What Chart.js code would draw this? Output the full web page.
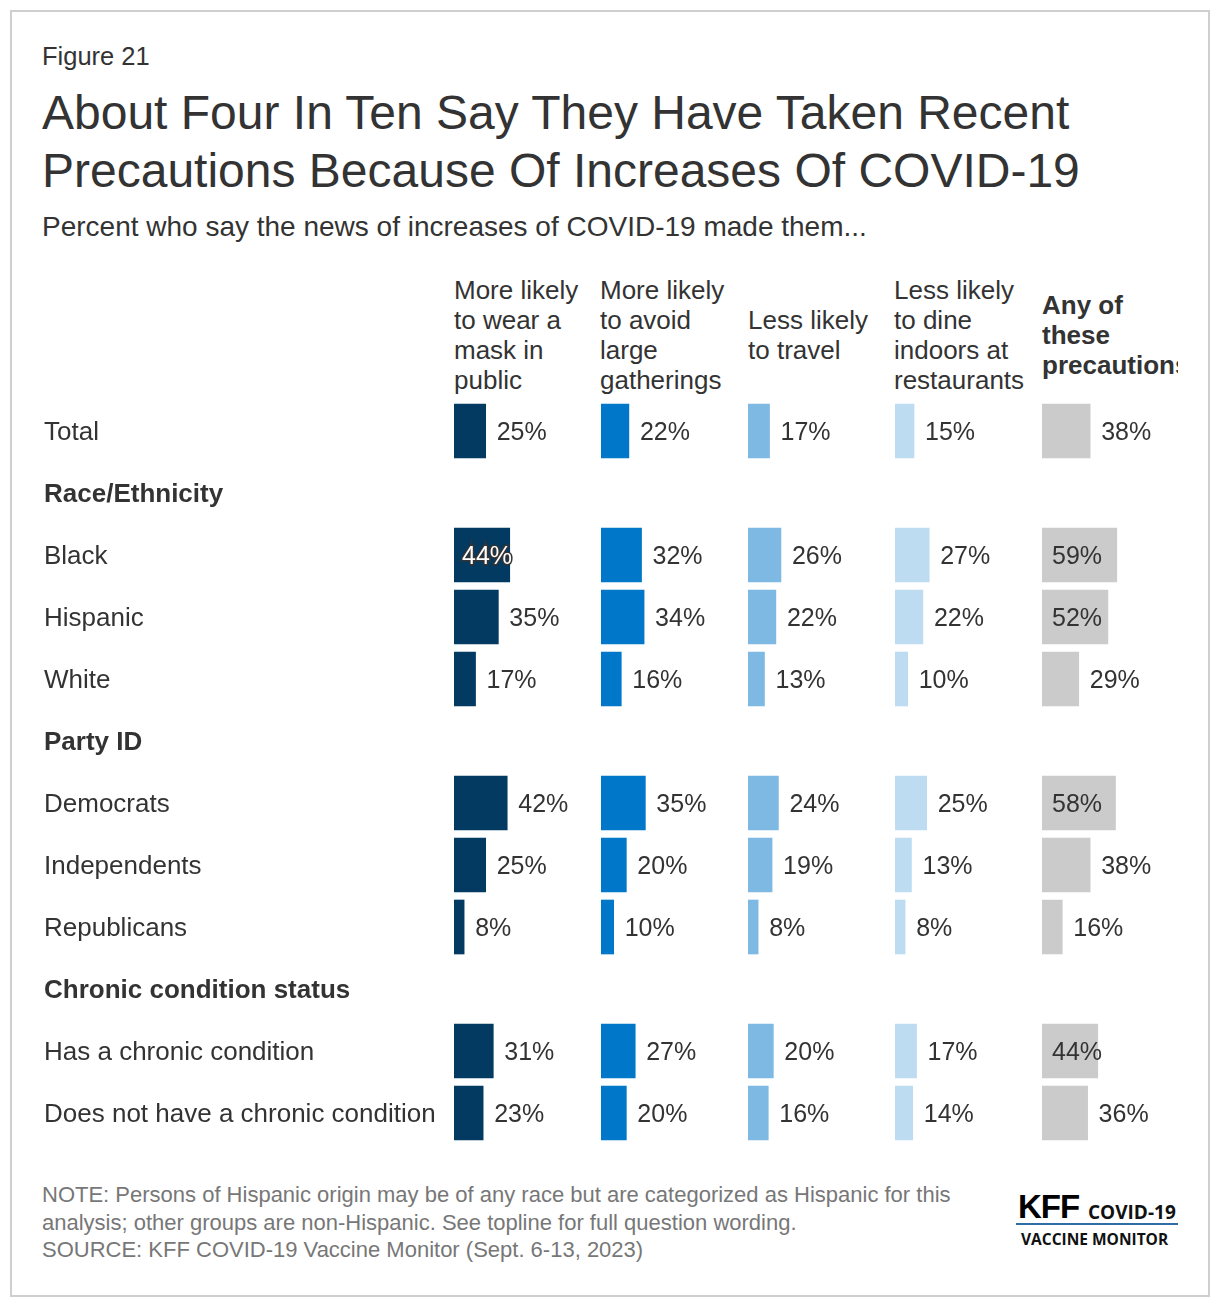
<!DOCTYPE html>
<html>
<head>
<meta charset="utf-8">
<script src="https://cdn.jsdelivr.net/npm/chart.js@4.4.1/dist/chart.umd.min.js"></script>
<style>
  body { margin: 0; background: #fff; font-family: Arial, "Liberation Sans", sans-serif; color: #333; }
  #page { position: relative; width: 1220px; height: 1308px; overflow: hidden; }
  #frame { position: absolute; left: 10px; top: 10px; width: 1196px; height: 1283px; border: 2px solid #cfcfcf; }
  .abs { position: absolute; white-space: nowrap; }
  #fig { left: 42px; top: 44px; font-size: 25.5px; line-height: 25px; }
  #title { left: 42px; top: 84px; font-size: 48px; line-height: 58px; color: #333; }
  #sub { left: 42px; top: 211px; font-size: 28px; line-height: 32px; }
  .hdr { position: absolute; top: 275px; height: 120px; display: flex; align-items: center; font-size: 26px; line-height: 30px; white-space: nowrap; overflow: hidden; }
  #notes { left: 42px; top: 1181px; font-size: 22px; line-height: 27.5px; color: #777; }
  #logo { position: absolute; left: 1016px; top: 1188px; width: 166px; height: 70px; }
  #kff { position: absolute; left: 2px; top: 0; font: 900 33px Arial, sans-serif; color: #000; letter-spacing: -1px; }
  #covid { position: absolute; left: 72px; top: 11px; font: 700 19px "Open Sans", Arial, sans-serif; color: #111; }
  #wave { position: absolute; left: 0; top: 35px; width: 162px; height: 2px; background: #2f6da6; }
  #vm { position: absolute; left: 5px; top: 40px; font: 700 15.5px "Open Sans", Arial, sans-serif; color: #111; }
  #chartBox { position: absolute; left: 0; top: 395px; }
</style>
</head>
<body>
<div id="page">
  <div id="frame"></div>
  <div class="abs" id="fig">Figure 21</div>
  <div class="abs" id="title">About Four In Ten Say They Have Taken Recent<br>Precautions Because Of Increases Of COVID-19</div>
  <div class="abs" id="sub">Percent who say the news of increases of COVID-19 made them...</div>

  <div class="hdr" style="left:454px;width:140px;"><div>More likely<br>to wear a<br>mask in<br>public</div></div>
  <div class="hdr" style="left:600px;width:140px;"><div>More likely<br>to avoid<br>large<br>gatherings</div></div>
  <div class="hdr" style="left:748px;width:140px;"><div>Less likely<br>to travel</div></div>
  <div class="hdr" style="left:894px;width:145px;"><div>Less likely<br>to dine<br>indoors at<br>restaurants</div></div>
  <div class="hdr" style="left:1042px;width:136px;font-weight:bold;"><div>Any of<br>these<br>precautions</div></div>

  <div id="chartBox"><canvas id="chart" width="1220" height="755"></canvas></div>

  <div class="abs" id="notes">NOTE: Persons of Hispanic origin may be of any race but are categorized as Hispanic for this<br>analysis; other groups are non-Hispanic. See topline for full question wording.<br>SOURCE: KFF COVID-19 Vaccine Monitor (Sept. 6-13, 2023)</div>

  <div id="logo">
    <div id="kff">KFF</div>
    <div id="covid">COVID-19</div>
    <div id="wave"></div>
    <div id="vm">VACCINE MONITOR</div>
  </div>
</div>

<script>
// rows (group headings carry no values)
const rowLabels = ['Total', 'Race/Ethnicity', 'Black', 'Hispanic', 'White', 'Party ID',
  'Democrats', 'Independents', 'Republicans', 'Chronic condition status',
  'Has a chronic condition', 'Does not have a chronic condition'];
const headingRows = ['Race/Ethnicity', 'Party ID', 'Chronic condition status'];

const wearMask     = [25, null, 44, 35, 17, null, 42, 25, 8, null, 31, 23];
const avoidCrowds  = [22, null, 32, 34, 16, null, 35, 20, 10, null, 27, 20];
const lessTravel   = [17, null, 26, 22, 13, null, 24, 19, 8, null, 20, 16];
const lessDining   = [15, null, 27, 22, 10, null, 25, 13, 8, null, 17, 14];
const anyPrecaution = [38, null, 59, 52, 29, null, 58, 38, 16, null, 44, 36];

const colors = ['#023a62', '#0077c8', '#7db9e3', '#bedcf1', '#cbcbcb'];
const series = [wearMask, avoidCrowds, lessTravel, lessDining, anyPrecaution];

const FONT = 'Arial, "Liberation Sans", sans-serif';

const valueLabels = {
  id: 'valueLabels',
  afterDatasetsDraw(chart) {
    const ctx = chart.ctx;
    ctx.save();
    ctx.font = '25px ' + FONT;
    ctx.textBaseline = 'middle';
    ctx.textAlign = 'left';
    chart.data.datasets.forEach((ds, i) => {
      chart.getDatasetMeta(i).data.forEach((bar, j) => {
        const v = ds.data[j];
        if (v === null) return;
        const txt = v + '%';
        const y = bar.y + 2;
        if (v >= 44) {
          // wide bars keep the label inside
          const x = bar.base + (i === 0 ? 8 : 10);
          if (i === 0) {
            ctx.lineWidth = 3;
            ctx.strokeStyle = '#333';
            ctx.strokeText(txt, x, y);
            ctx.fillStyle = '#fff';
          } else {
            ctx.fillStyle = '#333';
          }
          ctx.fillText(txt, x, y);
        } else {
          ctx.fillStyle = '#333';
          ctx.fillText(txt, bar.x + 11, y);
        }
      });
    });
    ctx.restore();
  }
};

const xScale = () => ({
  type: 'linear', position: 'bottom', stack: 'cols', stackWeight: 1,
  min: 0, max: 116, display: false
});

new Chart(document.getElementById('chart'), {
  type: 'bar',
  data: {
    labels: rowLabels,
    datasets: series.map((d, i) => ({
      data: d,
      xAxisID: 'x' + i,
      backgroundColor: colors[i],
      barThickness: 54,
      grouped: false
    }))
  },
  options: {
    indexAxis: 'y',
    responsive: false,
    animation: false,
    layout: { padding: { left: 44, right: 31, top: 5, bottom: 6 } },
    plugins: { legend: { display: false }, tooltip: { enabled: false } },
    scales: {
      x0: xScale(), x1: xScale(), x2: xScale(), x3: xScale(), x4: xScale(),
      y: {
        afterFit(scale) {
          scale.width = 410;
          scale.paddingTop = 0;
          scale.paddingBottom = 0;
        },
        grid: { display: false },
        border: { display: false },
        ticks: {
          autoSkip: false,
          crossAlign: 'far',
          labelOffset: 2,
          color: '#333',
          font: c => ({
            family: FONT, size: 26,
            weight: headingRows.includes(rowLabels[c.index]) ? 'bold' : 'normal'
          })
        }
      }
    }
  },
  plugins: [valueLabels]
});
</script>
</body>
</html>
